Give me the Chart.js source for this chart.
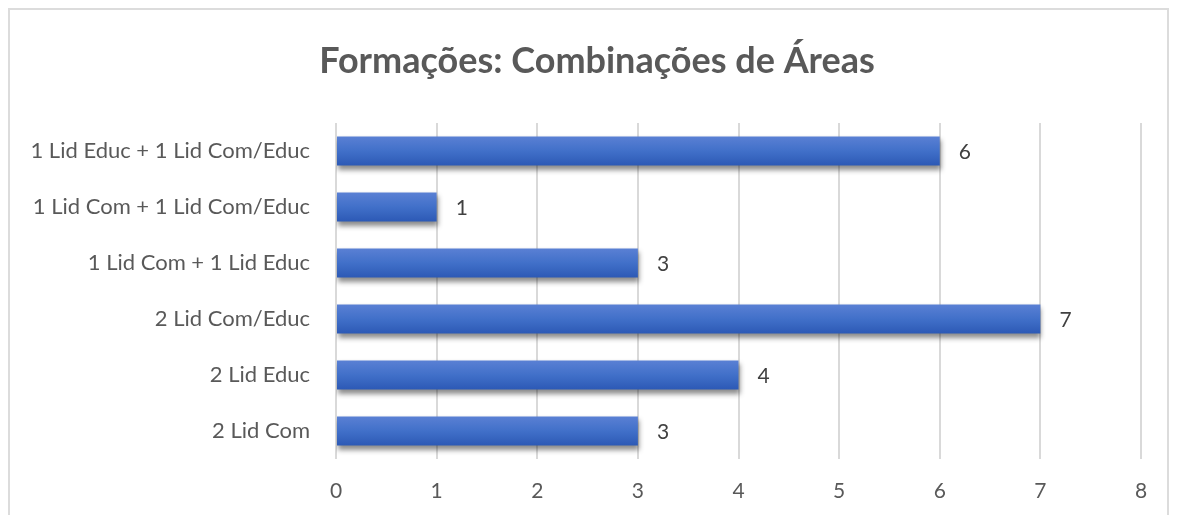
<!DOCTYPE html>
<html>
<head>
<meta charset="utf-8">
<script src="https://cdn.jsdelivr.net/npm/chart.js@4.4.1/dist/chart.umd.min.js"></script>
<style>
  html, body { margin: 0; padding: 0; background: #fff; }
  #wrap { position: relative; width: 1178px; height: 515px; overflow: hidden; }
  #frame { position: absolute; left: 8px; top: 8px; width: 1161px; height: 540px; border: 2px solid #dcdcdc; box-sizing: border-box; }
  canvas { position: absolute; left: 0; top: 0; }
</style>
</head>
<body>
<div id="wrap">
  <div id="frame"></div>
  <canvas id="c" width="1178" height="515"></canvas>
</div>
<script>
const titleText = 'Formações: Combinações de Áreas';
const categories = [
  '1 Lid Educ + 1 Lid Com/Educ',
  '1 Lid Com + 1 Lid Com/Educ',
  '1 Lid Com + 1 Lid Educ',
  '2 Lid Com/Educ',
  '2 Lid Educ',
  '2 Lid Com'
];
const values = [6, 1, 3, 7, 4, 3];
const xTicks = [0, 1, 2, 3, 4, 5, 6, 7, 8];

const FONT = 'Lato, "Open Sans", sans-serif';

const barStyle = {
  id: 'barStyle',
  beforeDatasetsDraw(chart) {
    const ctx = chart.ctx;
    const meta = chart.getDatasetMeta(0);
    meta.data.forEach(el => {
      const h = el.height;
      const g = ctx.createLinearGradient(0, el.y - h / 2, 0, el.y + h / 2);
      g.addColorStop(0, '#5a80d4');
      g.addColorStop(0.5, '#4170c9');
      g.addColorStop(1, '#2c59b5');
      el.options.backgroundColor = g;
    });
    ctx.save();
    ctx.shadowColor = 'rgba(0,0,0,0.45)';
    ctx.shadowBlur = 5;
    ctx.shadowOffsetX = 1;
    ctx.shadowOffsetY = 4;
  },
  afterDatasetsDraw(chart) {
    const ctx = chart.ctx;
    ctx.restore();
    const meta = chart.getDatasetMeta(0);
    ctx.save();
    ctx.fillStyle = '#404040';
    ctx.font = '21px ' + FONT;
    ctx.textAlign = 'left';
    ctx.textBaseline = 'middle';
    meta.data.forEach((el, i) => {
      ctx.fillText(String(values[i]), el.x + 19, el.y + 1);
    });
    ctx.restore();
  },
  afterDraw(chart) {
    const ctx = chart.ctx;
    ctx.save();
    ctx.fillStyle = '#595959';
    ctx.font = 'bold 36px ' + FONT;
    ctx.textAlign = 'center';
    ctx.textBaseline = 'middle';
    ctx.fillText(titleText, 597, 61);
    ctx.restore();
  }
};

new Chart(document.getElementById('c'), {
  type: 'bar',
  data: {
    labels: categories,
    datasets: [{
      data: values,
      backgroundColor: () => '#4472c4',
      borderWidth: 0,
      barPercentage: 0.52,
      categoryPercentage: 1.0
    }]
  },
  plugins: [barStyle],
  options: {
    indexAxis: 'y',
    responsive: false,
    animation: false,
    layout: { padding: { top: 123, right: 37, left: 0, bottom: 0 } },
    plugins: { legend: { display: false }, tooltip: { enabled: false }, title: { display: false } },
    scales: {
      x: {
        min: 0, max: 8,
        afterBuildTicks(scale) { scale.ticks = xTicks.map(v => ({ value: v })); },
        grid: { color: '#d9d9d9', lineWidth: 2, drawTicks: false },
        border: { display: false },
        ticks: { color: '#595959', font: { family: FONT, size: 21 }, padding: 20 },
        afterFit(scale) { scale.height = 56; }
      },
      y: {
        grid: { display: false },
        border: { display: false },
        ticks: { color: '#595959', font: { family: FONT, size: 22 }, padding: 18 },
        afterFit(scale) { scale.width = 336; }
      }
    }
  }
});
</script>
</body>
</html>
